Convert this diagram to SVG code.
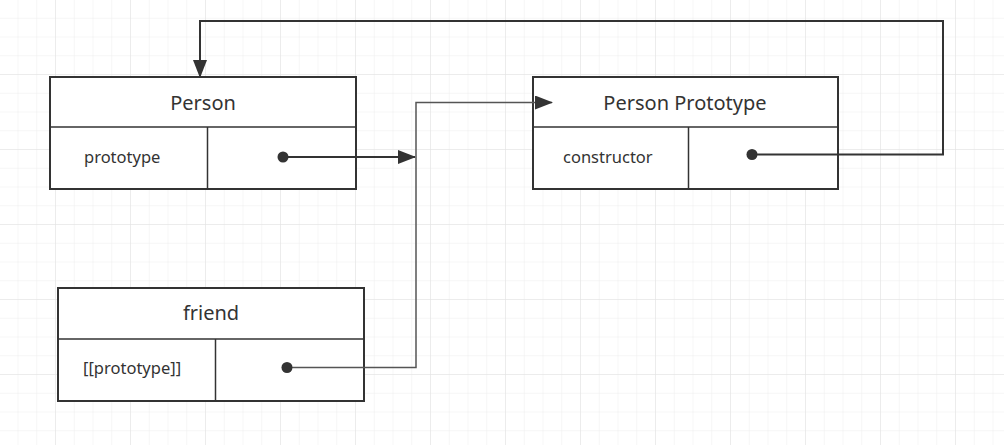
<svg xmlns="http://www.w3.org/2000/svg" width="1004" height="445" viewBox="0 0 1004 445">
<defs>
<pattern id="minor" x="17.5" y="-1" width="18.75" height="18.75" patternUnits="userSpaceOnUse">
<path d="M0 0V18.75M0 0H18.75" fill="none" stroke="#ededed" stroke-width="1"/>
</pattern>
<pattern id="major" x="55" y="-1" width="75" height="75" patternUnits="userSpaceOnUse">
<path d="M0 0V75M0 0H75" fill="none" stroke="#e2e2e2" stroke-width="1"/>
</pattern>
<marker id="arr" markerWidth="18" markerHeight="14" refX="17" refY="7" orient="auto" markerUnits="userSpaceOnUse">
<path d="M0 0L18 7L0 14Z" fill="#333"/>
</marker>
</defs>
<style>
.box{fill:#fff;stroke:#333;stroke-width:2}
.sep{stroke:#333;stroke-width:1.5;fill:none}
.title{font-family:"Noto Sans","Open Sans",sans-serif;font-size:20px;fill:#333;text-anchor:middle}
.field{font-family:"Noto Sans","Open Sans",sans-serif;font-size:16.5px;fill:#333}
.wire{fill:none;stroke:#333;stroke-width:2}
.wire2{fill:none;stroke:#555;stroke-width:1.5}
.dot{fill:#333}
</style>
<rect width="1004" height="445" fill="#fff"/>
<rect width="1004" height="445" fill="url(#minor)"/>
<rect width="1004" height="445" fill="url(#major)"/>

<g id="person">
<rect class="box" x="50" y="77" width="306" height="112"/>
<line class="sep" x1="50" y1="127" x2="356" y2="127"/>
<line class="sep" x1="207.5" y1="127" x2="207.5" y2="189"/>
<text class="title" x="203" y="110">Person</text>
<text class="field" x="84" y="163">prototype</text>
</g>

<g id="person-prototype">
<rect class="box" x="533" y="77" width="305" height="112"/>
<line class="sep" x1="533" y1="127" x2="838" y2="127"/>
<line class="sep" x1="688.5" y1="127" x2="688.5" y2="189"/>
<text class="title" x="685" y="110">Person Prototype</text>
<text class="field" x="563" y="163">constructor</text>
</g>

<g id="friend">
<rect class="box" x="58" y="288" width="306" height="113"/>
<line class="sep" x1="58" y1="339" x2="364" y2="339"/>
<line class="sep" x1="215.5" y1="339" x2="215.5" y2="401"/>
<text class="title" x="211" y="320">friend</text>
<text class="field" x="83" y="374">[[prototype]]</text>
</g>

<g id="connectors">
<path class="wire" d="M283 157H415" marker-end="url(#arr)"/>
<circle class="dot" cx="283" cy="157" r="5.5"/>
<path class="wire2" d="M287 367.5H416V102.5H552" marker-end="url(#arr)"/>
<circle class="dot" cx="287" cy="367.5" r="5.5"/>
<path class="wire" d="M752 154.5H943V21H200V77" marker-end="url(#arr)"/>
<circle class="dot" cx="752" cy="154.5" r="5.5"/>
</g>
</svg>
